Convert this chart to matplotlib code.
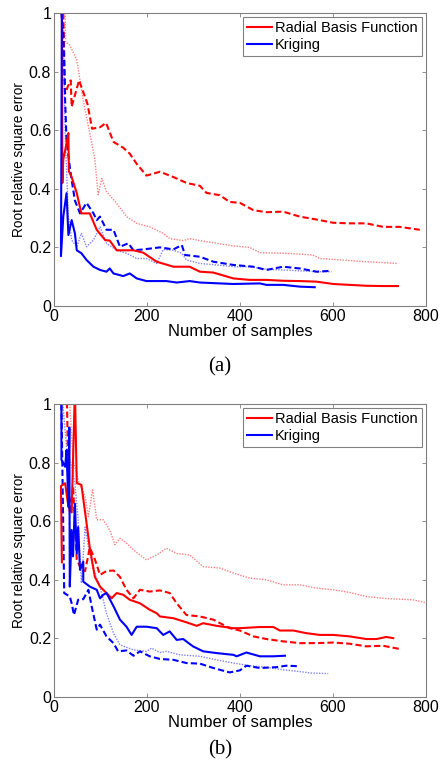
import matplotlib
matplotlib.use("Agg")
import matplotlib.pyplot as plt

plt.rcParams['font.family'] = ['Liberation Sans', 'DejaVu Sans']

# ---------------- panel (a) ----------------
a_rbf_solid_x = [17, 18, 20, 27, 31, 32, 38, 49, 59, 77, 92, 110, 120, 135, 171, 192, 221, 257, 292, 314, 343, 386, 421, 457, 493, 529, 565, 601, 636, 672, 708, 740]
a_rbf_solid_y = [1.0, 0.42, 0.5, 0.555, 0.59, 0.46, 0.44, 0.385, 0.316, 0.316, 0.26, 0.225, 0.223, 0.19, 0.19, 0.182, 0.151, 0.134, 0.134, 0.117, 0.114, 0.094, 0.089, 0.089, 0.086, 0.085, 0.083, 0.075, 0.072, 0.069, 0.068, 0.068]

a_rbf_dash_x = [20, 24, 30, 36, 38, 54, 72, 82, 99, 112, 128, 149, 163, 178, 199, 228, 257, 285, 314, 328, 357, 378, 400, 429, 457, 493, 529, 565, 601, 636, 672, 708, 744, 787]
a_rbf_dash_y = [1.0, 0.725, 0.75, 0.77, 0.68, 0.77, 0.69, 0.605, 0.61, 0.625, 0.56, 0.54, 0.52, 0.485, 0.445, 0.458, 0.44, 0.42, 0.41, 0.386, 0.378, 0.355, 0.352, 0.327, 0.32, 0.322, 0.305, 0.295, 0.284, 0.282, 0.282, 0.27, 0.27, 0.26]

a_rbf_dot_x = [24, 25, 34, 49, 63, 77, 88, 95, 103, 113, 135, 156, 178, 206, 235, 249, 278, 292, 314, 350, 386, 421, 443, 493, 529, 557, 572, 601, 636, 672, 708, 740]
a_rbf_dot_y = [1.0, 0.9, 0.89, 0.84, 0.70, 0.59, 0.50, 0.38, 0.435, 0.39, 0.35, 0.305, 0.282, 0.27, 0.248, 0.23, 0.223, 0.23, 0.223, 0.214, 0.205, 0.2, 0.182, 0.18, 0.177, 0.174, 0.162, 0.159, 0.155, 0.151, 0.148, 0.145]

a_krg_solid_x = [17, 15, 20, 27, 31, 38, 45, 49, 59, 70, 85, 99, 113, 120, 128, 149, 163, 178, 199, 242, 264, 292, 314, 386, 443, 457, 493, 529, 561]
a_krg_solid_y = [1.0, 0.17, 0.305, 0.385, 0.242, 0.293, 0.248, 0.19, 0.18, 0.157, 0.134, 0.123, 0.117, 0.128, 0.111, 0.102, 0.111, 0.094, 0.085, 0.085, 0.08, 0.085, 0.08, 0.075, 0.077, 0.072, 0.072, 0.066, 0.064]

a_krg_dash_x = [16, 20, 24, 27, 34, 38, 45, 56, 70, 85, 92, 99, 113, 128, 142, 160, 171, 192, 228, 257, 275, 282, 314, 343, 386, 429, 457, 493, 529, 565, 597]
a_krg_dash_y = [1.0, 0.93, 0.70, 0.566, 0.475, 0.43, 0.36, 0.316, 0.352, 0.316, 0.293, 0.305, 0.26, 0.26, 0.202, 0.214, 0.19, 0.193, 0.2, 0.193, 0.208, 0.174, 0.168, 0.151, 0.14, 0.134, 0.123, 0.134, 0.128, 0.117, 0.12]

a_krg_dot_x = [19, 24, 31, 38, 49, 59, 70, 85, 99, 113, 135, 156, 178, 199, 221, 235, 257, 275, 285, 314, 350, 386, 421, 457, 493, 529, 565, 597]
a_krg_dot_y = [1.0, 0.59, 0.305, 0.225, 0.202, 0.248, 0.202, 0.225, 0.27, 0.214, 0.19, 0.18, 0.162, 0.162, 0.145, 0.193, 0.19, 0.18, 0.157, 0.145, 0.14, 0.134, 0.134, 0.125, 0.123, 0.12, 0.117, 0.117]

# ---------------- panel (b) ----------------
b_rbf_solid_x = [17, 15, 24, 31, 38, 45, 49, 59, 67, 77, 88, 99, 113, 124, 135, 149, 163, 185, 206, 221, 228, 257, 285, 307, 321, 350, 386, 400, 443, 472, 486, 515, 543, 572, 601, 636, 672, 694, 715, 730]
b_rbf_solid_y = [0.46, 0.72, 0.73, 0.65, 0.63, 1.05, 0.73, 0.724, 0.63, 0.51, 0.41, 0.377, 0.355, 0.337, 0.355, 0.349, 0.332, 0.32, 0.298, 0.286, 0.275, 0.269, 0.255, 0.243, 0.252, 0.243, 0.235, 0.235, 0.239, 0.239, 0.227, 0.227, 0.218, 0.212, 0.212, 0.207, 0.198, 0.198, 0.205, 0.201]

b_rbf_dash_x = [24, 28, 31, 34, 41, 49, 59, 67, 77, 88, 99, 113, 128, 142, 156, 171, 185, 206, 228, 249, 264, 285, 314, 343, 378, 400, 429, 457, 493, 529, 565, 601, 636, 672, 708, 744]
b_rbf_dash_y = [1.0, 1.0, 0.74, 0.627, 0.72, 0.47, 0.434, 0.43, 0.51, 0.47, 0.417, 0.43, 0.432, 0.41, 0.366, 0.337, 0.366, 0.36, 0.364, 0.355, 0.32, 0.28, 0.275, 0.264, 0.235, 0.227, 0.207, 0.198, 0.19, 0.184, 0.184, 0.186, 0.182, 0.173, 0.175, 0.164]

b_rbf_dot_x = [34, 41, 52, 67, 74, 83, 92, 106, 120, 131, 142, 156, 171, 199, 221, 242, 264, 292, 321, 357, 386, 421, 457, 493, 529, 565, 601, 636, 672, 708, 744, 771, 798]
b_rbf_dot_y = [1.0, 0.81, 0.74, 0.684, 0.616, 0.707, 0.605, 0.605, 0.57, 0.52, 0.542, 0.525, 0.502, 0.468, 0.485, 0.508, 0.49, 0.485, 0.445, 0.44, 0.423, 0.406, 0.4, 0.383, 0.383, 0.372, 0.366, 0.357, 0.343, 0.337, 0.334, 0.332, 0.323]

b_krg_solid_x = [16, 16, 24, 27, 31, 33, 34, 38, 41, 45, 49, 52, 56, 63, 63, 77, 92, 99, 106, 113, 128, 142, 156, 167, 178, 199, 221, 235, 249, 264, 278, 299, 321, 350, 386, 393, 414, 443, 472, 497]
b_krg_solid_y = [1.0, 0.81, 0.786, 0.843, 0.65, 0.92, 0.377, 0.57, 0.48, 0.66, 0.49, 0.58, 0.434, 0.462, 0.394, 0.377, 0.366, 0.337, 0.349, 0.355, 0.31, 0.264, 0.24, 0.212, 0.24, 0.24, 0.235, 0.212, 0.224, 0.195, 0.198, 0.173, 0.156, 0.15, 0.144, 0.139, 0.152, 0.139, 0.139, 0.141]

b_krg_dash_x = [16, 22, 34, 38, 43, 52, 63, 74, 81, 92, 99, 113, 128, 138, 156, 171, 185, 206, 228, 257, 285, 314, 343, 378, 400, 414, 443, 479, 500, 529]
b_krg_dash_y = [1.0, 0.355, 0.343, 0.32, 0.28, 0.332, 0.334, 0.366, 0.31, 0.23, 0.247, 0.207, 0.184, 0.156, 0.159, 0.141, 0.156, 0.139, 0.13, 0.127, 0.116, 0.114, 0.099, 0.084, 0.091, 0.107, 0.099, 0.102, 0.107, 0.105]

b_krg_dot_x = [19, 27, 38, 45, 52, 59, 67, 74, 85, 99, 113, 128, 142, 171, 199, 210, 228, 242, 271, 314, 350, 386, 421, 457, 493, 529, 551, 590]
b_krg_dot_y = [1.0, 0.855, 0.786, 0.73, 0.605, 0.389, 0.58, 0.514, 0.434, 0.377, 0.286, 0.218, 0.178, 0.161, 0.156, 0.167, 0.152, 0.156, 0.144, 0.139, 0.127, 0.116, 0.107, 0.102, 0.093, 0.087, 0.082, 0.08]

x_ticks = [0, 200, 400, 600, 800]
y_ticks = [0, 0.2, 0.4, 0.6, 0.8, 1]
y_tick_labels = ['0', '0.2', '0.4', '0.6', '0.8', '1']
legend_labels = ['Radial Basis Function', 'Kriging']
captions = ['(a)', '(b)']

RED = '#ff0000'
BLUE = '#0000ff'
LRED = '#ff8080'
LBLUE = '#8080ff'

fig = plt.figure(figsize=(4.4, 7.68), dpi=100)
positions = [[0.1227, 0.6016, 0.845, 0.3815], [0.1227, 0.0924, 0.845, 0.3815]]
panels = [
    (a_rbf_solid_x, a_rbf_solid_y, a_rbf_dash_x, a_rbf_dash_y, a_rbf_dot_x, a_rbf_dot_y,
     a_krg_solid_x, a_krg_solid_y, a_krg_dash_x, a_krg_dash_y, a_krg_dot_x, a_krg_dot_y),
    (b_rbf_solid_x, b_rbf_solid_y, b_rbf_dash_x, b_rbf_dash_y, b_rbf_dot_x, b_rbf_dot_y,
     b_krg_solid_x, b_krg_solid_y, b_krg_dash_x, b_krg_dash_y, b_krg_dot_x, b_krg_dot_y),
]
caption_y = [1 - 367 / 768, 1 - 750 / 768]

for i, (pos, p) in enumerate(zip(positions, panels)):
    ax = fig.add_axes(pos)
    (rsx, rsy, rdx, rdy, rox, roy, ksx, ksy, kdx, kdy, kox, koy) = p
    ax.plot(rox, roy, color=LRED, lw=1.0, ls=(0, (1, 1)))
    ax.plot(kox, koy, color=LBLUE, lw=1.0, ls=(0, (1, 1)))
    ax.plot(rdx, rdy, color=RED, lw=1.5, ls=(0, (3, 1.5)))
    ax.plot(kdx, kdy, color=BLUE, lw=1.5, ls=(0, (3, 1.5)))
    l1, = ax.plot(rsx, rsy, color=RED, lw=1.5)
    l2, = ax.plot(ksx, ksy, color=BLUE, lw=1.5)
    ax.set_xlim(0, 800)
    ax.set_ylim(0, 1)
    ax.set_xticks(x_ticks)
    ax.set_yticks(y_ticks)
    ax.set_yticklabels(y_tick_labels)
    ax.tick_params(direction='in', length=3, width=0.6, color='#808080',
                   top=True, right=True, labelsize=11.5, pad=2)
    for s in ax.spines.values():
        s.set_color('#808080')
        s.set_linewidth(0.8)
    ax.set_xlabel('Number of samples', fontsize=12, labelpad=0)
    ax.set_ylabel('Root relative square error', fontsize=9.8, labelpad=2)
    leg = ax.legend([l1, l2], legend_labels, loc='upper right', fontsize=10.5,
                    fancybox=False, framealpha=1, edgecolor='#808080',
                    borderpad=0.3, labelspacing=0.2, handlelength=1.7,
                    handletextpad=0.2, borderaxespad=0.25)
    leg.get_frame().set_linewidth(0.8)
    fig.text(0.5, caption_y[i], captions[i], ha='center', va='center',
             fontsize=15, family=['Liberation Serif', 'DejaVu Serif'])

fig.savefig('out.png', dpi=100)
